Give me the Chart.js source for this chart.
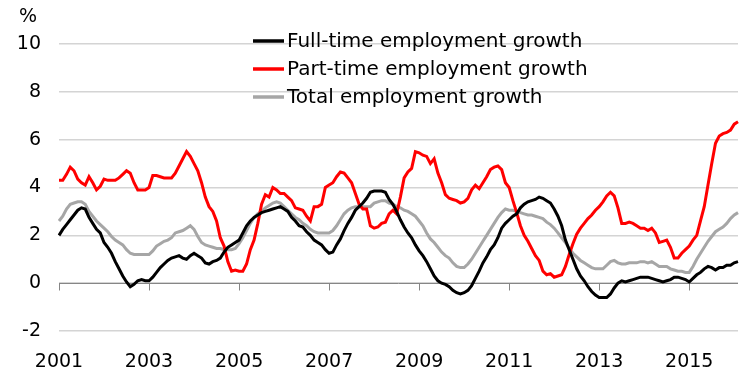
<!DOCTYPE html>
<html>
<head>
<meta charset="utf-8">
<script src="https://cdn.jsdelivr.net/npm/chart.js@4.4.1/dist/chart.umd.min.js"></script>
<style>
  html, body { margin: 0; padding: 0; background: #fff; }
</style>
</head>
<body>
<canvas id="chart" width="750" height="371"></canvas>
<script>
// Monthly year-on-year growth, % (Jan 2001 - Feb 2016)
const fullTime = [
  2.0, 2.25, 2.45, 2.65, 2.85, 3.05, 3.15, 3.1, 2.75, 2.5, 2.25, 2.1,
  1.7, 1.5, 1.25, 0.9, 0.6, 0.3, 0.05, -0.15, -0.05, 0.1, 0.15, 0.1,
  0.1, 0.25, 0.45, 0.65, 0.8, 0.95, 1.05, 1.1, 1.15, 1.05, 1.0, 1.15,
  1.25, 1.15, 1.05, 0.85, 0.8, 0.9, 0.95, 1.05, 1.3, 1.5, 1.6, 1.7,
  1.8, 2.1, 2.4, 2.6, 2.75, 2.85, 2.95, 3.0, 3.05, 3.1, 3.15, 3.2,
  3.1, 3.0, 2.75, 2.6, 2.4, 2.35, 2.15, 2.0, 1.8, 1.7, 1.6, 1.4,
  1.25, 1.3, 1.6, 1.85, 2.2, 2.5, 2.75, 3.05, 3.2, 3.35, 3.55, 3.8,
  3.85, 3.85, 3.85, 3.8, 3.5, 3.3, 3.0, 2.65, 2.35, 2.1, 1.9, 1.6,
  1.35, 1.15, 0.9, 0.6, 0.3, 0.1, 0.0, -0.05, -0.15, -0.3, -0.4, -0.45,
  -0.4, -0.3, -0.1, 0.2, 0.5, 0.85, 1.1, 1.4, 1.6, 1.9, 2.3, 2.5,
  2.65, 2.8, 2.9, 3.15, 3.3, 3.4, 3.45, 3.5, 3.6, 3.55, 3.45, 3.35,
  3.1, 2.8, 2.4, 1.8, 1.4, 1.0, 0.6, 0.3, 0.1, -0.15, -0.35, -0.5,
  -0.6, -0.6, -0.6, -0.45, -0.2, 0.0, 0.1, 0.05, 0.1, 0.15, 0.2, 0.25,
  0.25, 0.25, 0.2, 0.15, 0.1, 0.05, 0.1, 0.15, 0.25, 0.25, 0.2, 0.15,
  0.05, 0.2, 0.35, 0.45, 0.6, 0.7, 0.65, 0.55, 0.65, 0.65, 0.75, 0.75,
  0.85, 0.9
];

const partTime = [
  4.3, 4.3, 4.55, 4.85, 4.7, 4.35, 4.2, 4.1, 4.45, 4.2, 3.9, 4.05,
  4.35, 4.3, 4.3, 4.3, 4.4, 4.55, 4.7, 4.6, 4.2, 3.9, 3.9, 3.9,
  4.0, 4.5, 4.5, 4.45, 4.4, 4.4, 4.4, 4.6, 4.9, 5.2, 5.5, 5.3,
  5.0, 4.7, 4.2, 3.6, 3.2, 3.0, 2.6, 1.9, 1.55, 0.9, 0.5, 0.55,
  0.5, 0.5, 0.8, 1.4, 1.8, 2.5, 3.3, 3.7, 3.6, 4.0, 3.9, 3.75,
  3.75, 3.6, 3.45, 3.15, 3.1, 3.05, 2.8, 2.6, 3.2, 3.2, 3.3, 4.0,
  4.1, 4.2, 4.45, 4.65, 4.6, 4.4, 4.2, 3.75, 3.3, 3.1, 3.1, 2.4,
  2.3, 2.35, 2.5, 2.55, 2.9, 3.05, 2.9, 3.6, 4.4, 4.65, 4.8, 5.5,
  5.45, 5.35, 5.3, 5.0, 5.2, 4.6, 4.2, 3.7, 3.55, 3.5, 3.45, 3.35,
  3.4, 3.55, 3.9, 4.1, 3.95, 4.2, 4.45, 4.75, 4.85, 4.9, 4.75, 4.2,
  4.0, 3.45, 2.95, 2.4, 2.0, 1.75, 1.45, 1.15, 0.95, 0.5, 0.35, 0.4,
  0.25, 0.3, 0.35, 0.7, 1.2, 1.65, 2.05, 2.3, 2.5, 2.7, 2.85, 3.05,
  3.2, 3.4, 3.65, 3.8, 3.65, 3.15, 2.5, 2.5, 2.55, 2.5, 2.4, 2.3,
  2.3, 2.2, 2.3, 2.1, 1.7, 1.75, 1.8, 1.5, 1.05, 1.05, 1.25, 1.4,
  1.55, 1.8, 2.0, 2.6, 3.2, 4.1, 5.0, 5.85, 6.15, 6.25, 6.3, 6.4,
  6.65, 6.75
];

const totalEmp = [
  2.6, 2.8, 3.1, 3.3, 3.35, 3.4, 3.4, 3.3, 3.0, 2.8, 2.6, 2.45,
  2.3, 2.15, 1.95, 1.8, 1.7, 1.6, 1.4, 1.25, 1.2, 1.2, 1.2, 1.2,
  1.2, 1.35, 1.55, 1.65, 1.75, 1.8, 1.9, 2.1, 2.15, 2.2, 2.3, 2.4,
  2.25, 1.95, 1.7, 1.6, 1.55, 1.5, 1.45, 1.45, 1.4, 1.4, 1.4, 1.45,
  1.65, 1.9, 2.2, 2.5, 2.75, 2.9, 3.0, 3.15, 3.25, 3.35, 3.4, 3.35,
  3.2, 3.05, 2.9, 2.75, 2.65, 2.5, 2.4, 2.25, 2.15, 2.1, 2.1, 2.1,
  2.1, 2.2, 2.4, 2.65, 2.9, 3.05, 3.15, 3.2, 3.2, 3.2, 3.2, 3.2,
  3.35, 3.4, 3.45, 3.45, 3.35, 3.3, 3.2, 3.15, 3.05, 3.0, 2.9, 2.8,
  2.6, 2.4, 2.1, 1.85, 1.7, 1.5, 1.3, 1.15, 1.05, 0.85, 0.7, 0.65,
  0.65, 0.8, 1.0, 1.25, 1.5, 1.75, 2.0, 2.25, 2.5, 2.75, 2.95, 3.1,
  3.05, 3.05, 3.0, 2.95, 2.9, 2.85, 2.85, 2.8, 2.75, 2.7, 2.55, 2.45,
  2.3, 2.1, 1.9, 1.7, 1.45, 1.25, 1.1, 0.95, 0.85, 0.75, 0.65, 0.6,
  0.6, 0.6, 0.75, 0.9, 0.95, 0.85, 0.8, 0.8, 0.85, 0.85, 0.85, 0.9,
  0.9, 0.85, 0.9, 0.8, 0.7, 0.7, 0.7, 0.6, 0.55, 0.5, 0.5, 0.45,
  0.45, 0.7, 1.0, 1.25, 1.5, 1.75, 1.95, 2.15, 2.25, 2.35, 2.5, 2.7,
  2.85, 2.95
];

const seriesNames = ['Full-time employment growth', 'Part-time employment growth', 'Total employment growth'];
const yearTicks = ['2001', '2003', '2005', '2007', '2009', '2011', '2013', '2015'];
const startYear = 2001;

// one category per month
const months = fullTime.map((v, i) => {
  const y = startYear + Math.floor(i / 12);
  const m = (i % 12) + 1;
  return y + '-' + (m < 10 ? '0' + m : m);
});

const FONT = { family: 'DejaVu Sans', size: 19 };
const LEGEND_FONT = '20px DejaVu Sans';

function isYearTick(label) {
  return label.endsWith('-01') && yearTicks.includes(label.slice(0, 4));
}

// axis line at zero with tick marks, plus the "%" unit label
const zeroAxis = {
  id: 'zeroAxis',
  beforeDatasetsDraw(chart) {
    const { ctx, chartArea, scales } = chart;
    const y0 = Math.round(scales.y.getPixelForValue(0)) + 0.5;
    ctx.save();
    ctx.strokeStyle = '#868686';
    ctx.lineWidth = 1;
    ctx.beginPath();
    ctx.moveTo(chartArea.left, y0);
    ctx.lineTo(chartArea.right, y0);
    months.forEach((lab, i) => {
      if (!isYearTick(lab)) return;
      const x = Math.round(scales.x.getPixelForValue(i)) + 0.5;
      ctx.moveTo(x, y0);
      ctx.lineTo(x, y0 + 7);
    });
    ctx.stroke();
    ctx.fillStyle = '#000';
    ctx.font = FONT.size + 'px ' + FONT.family;
    ctx.textAlign = 'center';
    ctx.textBaseline = 'middle';
    ctx.fillText('%', 28, 17);
    ctx.restore();
  }
};

// legend box sitting inside the plot
const innerLegend = {
  id: 'innerLegend',
  afterDatasetsDraw(chart) {
    const { ctx } = chart;
    ctx.save();
    ctx.font = LEGEND_FONT;
    ctx.textAlign = 'left';
    ctx.textBaseline = 'middle';
    chart.data.datasets.forEach((ds, i) => {
      const y = 41 + i * 28;
      ctx.strokeStyle = ds.borderColor;
      ctx.lineWidth = 3.5;
      ctx.beginPath();
      ctx.moveTo(253, y);
      ctx.lineTo(284, y);
      ctx.stroke();
      ctx.fillStyle = '#000';
      ctx.fillText(ds.label, 287, y + 1);
    });
    ctx.restore();
  }
};

const lineStyle = { borderWidth: 3, pointRadius: 0, tension: 0, fill: false };

new Chart(document.getElementById('chart'), {
  type: 'line',
  data: {
    labels: months,
    datasets: [
      { label: seriesNames[0], data: fullTime, borderColor: '#000000', ...lineStyle },
      { label: seriesNames[1], data: partTime, borderColor: '#ff0000', ...lineStyle },
      { label: seriesNames[2], data: totalEmp, borderColor: '#a6a6a6', ...lineStyle }
    ]
  },
  options: {
    responsive: false,
    animation: false,
    devicePixelRatio: 1,
    layout: { padding: { top: 44, right: 0, bottom: 0, left: 0 } },
    plugins: {
      legend: { display: false },
      tooltip: { enabled: false }
    },
    scales: {
      x: {
        offset: false,
        grid: { display: false },
        border: { display: false },
        ticks: {
          autoSkip: false,
          maxRotation: 0,
          padding: 12,
          color: '#000',
          font: FONT,
          callback: function(value) {
            const lab = this.getLabelForValue(value);
            return isYearTick(lab) ? lab.slice(0, 4) : '';
          }
        },
        afterFit(scale) { scale.height = 40; }
      },
      y: {
        min: -2,
        max: 10,
        grid: { color: '#d4d4d4', lineWidth: 1.5, drawTicks: false },
        border: { display: false },
        ticks: { stepSize: 2, padding: 18, color: '#000', font: FONT },
        afterFit(scale) { scale.width = 59; }
      }
    }
  },
  plugins: [zeroAxis, innerLegend]
});
</script>
</body>
</html>
